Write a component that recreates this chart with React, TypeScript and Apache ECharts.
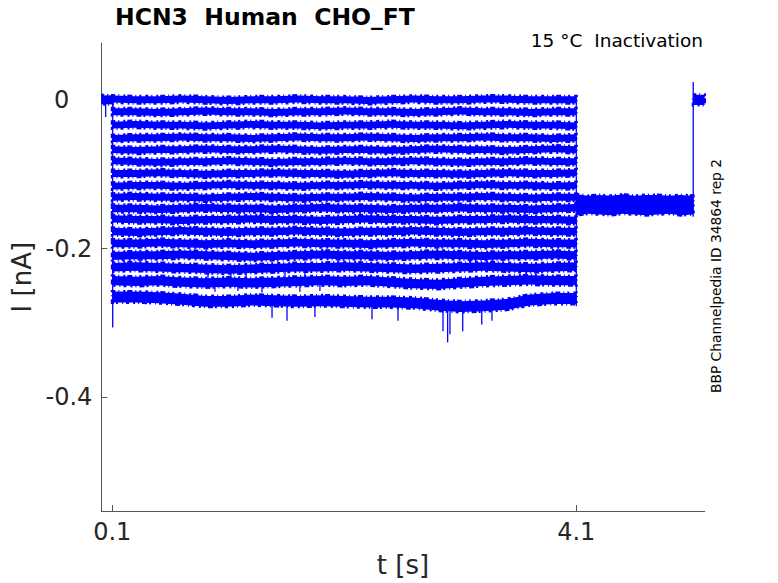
import React, { useEffect, useRef } from "react";
import * as echarts from "echarts";

// Axis extents
const T_MIN = 0.0052;
const T_MAX = 5.207;
const I_MIN = -0.5527;
const I_MAX = 0.076;

const X_TICKS = [0.1, 4.1];
const Y_TICKS = [-0.4, -0.2, 0];

// sample times during the test step (s)
const STEP_T = [0.1, 0.3, 0.5, 0.7, 0.9, 1.1, 1.3, 1.5, 1.7, 1.9, 2.1, 2.3, 2.5, 2.7, 2.9, 3.1, 3.3, 3.5, 3.7, 3.9, 4.1];

// mean current of each sweep during the step (pA)
const LEVELS_PA = [0, -16, -34, -51, -67, -83, -99, -115, -131, -146, -161, -177, -193, -209, -225, -243, -263];

// half-width of the noise band of each sweep (pA)
const NOISE_PA = [4.7, 4.6, 4.6, 4.6, 4.6, 4.6, 4.6, 4.6, 4.8, 5, 5, 5, 5.2, 5.4, 5.8, 6.3, 7.3];

// slow drift of each sweep around its mean, at STEP_T (pA)
const DRIFT_PA = [
  [1, 0, 0, 1, 0, -1, 0, 0, 1, 0, 0, -1, 0, 1, 0, 0, 1, 1, 0, 0, 0],
  [0, 0, -1, 0, 1, 0, 0, -1, 0, 0, 1, 0, 0, -1, 0, 1, 0, 0, -1, 0, 0],
  [0, 1, 0, 0, -1, 0, 1, 0, 0, -1, 0, 0, 1, 0, 0, -1, 0, 1, 0, 0, -1],
  [-1, 0, 0, 1, 0, 0, -1, 0, 1, 0, 0, 1, 0, -1, 0, 0, 1, 0, 0, -1, 0],
  [0, -1, 0, 0, 1, 0, 0, 1, 0, -1, 0, 0, -1, 0, 1, 0, 0, -1, 0, 1, 0],
  [1, 0, -1, 0, 0, 1, 0, -1, 0, 0, 1, 0, 0, 1, 0, -1, 0, 0, 1, 0, 0],
  [0, 0, 1, 0, -1, 0, 0, 1, 0, 0, -1, 0, 1, 0, 0, -1, 0, 1, 0, 0, 1],
  [-1, 0, 0, -1, 0, 1, 0, 0, -1, 0, 0, 1, 0, 0, -1, 0, 1, 0, 0, -1, 0],
  [0, 1, 0, 0, -1, 0, 1, 0, -1, 0, 0, 1, 0, -1, 0, 0, 1, 0, -1, 0, 0],
  [0, 0, -1, 0, 1, 0, 0, -1, 0, 1, 0, 0, -1, 0, 0, 1, 0, 0, -1, 0, 1],
  [1, 0, 0, -1, 0, 0, 1, 0, 0, -1, 0, 1, 0, 0, -1, 0, 0, 1, 0, 0, -1],
  [0, -1, 0, 1, 0, -1, 0, 0, 1, 0, -1, 0, 0, 1, 0, -1, 0, 0, 1, 0, 0],
  [0, 0, 1, 0, -1, 0, -1, 0, 1, 0, 0, -1, 0, 1, 0, 0, -1, 0, 1, 0, 0],
  [-1, 0, 0, 1, 0, -1, -2, -1, 0, 1, 0, 0, -1, 0, 1, 0, -1, 0, 0, 1, 0],
  [0, 1, 0, -1, -2, -3, -2, -1, 0, 0, 1, 0, -1, -2, -1, 0, 1, 0, -1, 0, 1],
  [0, -1, 0, -2, -3, -2, -3, -2, -1, 0, -1, 0, -2, -4, -5, -3, -1, 0, 1, 0, 0],
  [-2, -2, -3, -5, -8, -8, -6, -7, -8, -7, -8, -9, -9, -10, -13, -15, -14, -12, -6, -4, -4],
];

// holding level before the step (nA)
const PRE_T = [0.0052, 0.03, 0.06, 0.1];
const PRE_HI = [0.0066, 0.0058, 0.006, 0.0058];
const PRE_LO = [-0.0062, -0.006, -0.0058, -0.006];

// all sweeps overlapping after the step (nA)
const POST_T = [4.1, 4.2, 4.3, 4.4, 4.5, 4.6, 4.7, 4.8, 4.9, 5.0, 5.108];
const POST_HI = [-0.127, -0.129, -0.128, -0.129, -0.127, -0.129, -0.128, -0.128, -0.129, -0.128, -0.129];
const POST_LO = [-0.155, -0.153, -0.154, -0.155, -0.153, -0.154, -0.155, -0.154, -0.153, -0.155, -0.154];

// back at holding level (nA)
const TAIL_T = [5.108, 5.207];
const TAIL_HI = [0.007, 0.007];
const TAIL_LO = [-0.007, -0.007];

// vertical strokes and spikes: [t (s), top (nA), bottom (nA)]
const STROKES = [
  [0.043, 0.0, -0.023],
  [0.1035, 0.004, -0.306],
  [4.1, 0.004, -0.2775],
  [5.108, 0.024, -0.157],
  [1.477, -0.274, -0.293],
  [1.606, -0.275, -0.297],
  [1.847, -0.275, -0.292],
  [2.339, -0.277, -0.295],
  [2.563, -0.277, -0.297],
  [2.951, -0.281, -0.311],
  [2.991, -0.281, -0.326],
  [3.011, -0.281, -0.315],
  [3.121, -0.281, -0.311],
  [3.285, -0.279, -0.302],
  [3.373, -0.279, -0.297],
  [0.985, -0.248, -0.258],
  [1.183, -0.248, -0.257],
  [1.39, -0.249, -0.259],
  [1.717, -0.25, -0.258],
  [1.89, -0.249, -0.257],
  [0.925, -0.23, -0.239],
  [1.123, -0.231, -0.24],
  [1.253, -0.232, -0.24],
  [1.589, -0.231, -0.239],
  [1.761, -0.231, -0.24],
];

const TITLE = "HCN3  Human  CHO_FT";
const SUBTITLE = "15 °C  Inactivation";
const SIDE_NOTE = "BBP Channelpedia ID 34864 rep 2";

const FONT = "DejaVu Sans";
const BLUE = "#0000ff";

type Band = { t: number[]; hi: number[]; lo: number[] };

function buildBands(): Band[] {
  const bands: Band[] = [{ t: PRE_T, hi: PRE_HI, lo: PRE_LO }];
  LEVELS_PA.forEach((lvl, i) => {
    const c = STEP_T.map((_, k) => (lvl + DRIFT_PA[i][k]) / 1000);
    const n = NOISE_PA[i] / 1000;
    bands.push({ t: STEP_T, hi: c.map((v) => v + n), lo: c.map((v) => v - n) });
  });
  bands.push({ t: POST_T, hi: POST_HI, lo: POST_LO });
  bands.push({ t: TAIL_T, hi: TAIL_HI, lo: TAIL_LO });
  return bands;
}

export default function App() {
  const ref = useRef<HTMLDivElement>(null);
  useEffect(() => {
    if (!ref.current) return;
    const chart = echarts.init(ref.current, null, { renderer: "svg" });
    const bands = buildBands();
    const option: any = {
      animation: false,
      backgroundColor: "#ffffff",
      grid: { left: 101.3, top: 43.3, width: 603.4, height: 469, containLabel: false },
      xAxis: {
        type: "value",
        min: T_MIN,
        max: T_MAX,
        name: "t [s]",
        nameLocation: "middle",
        nameGap: 41,
        nameTextStyle: { fontFamily: FONT, fontSize: 26, color: "#262626" },
        axisLine: { show: true, onZero: false, lineStyle: { color: "#555555", width: 1 } },
        axisTick: { show: true, inside: true, length: 6, customValues: X_TICKS, lineStyle: { color: "#555555" } },
        axisLabel: {
          show: true,
          customValues: X_TICKS,
          margin: 9,
          fontFamily: FONT,
          fontSize: 24,
          color: "#262626",
          formatter: (v: number) => v.toFixed(1),
        },
        splitLine: { show: false },
      },
      yAxis: {
        type: "value",
        min: I_MIN,
        max: I_MAX,
        name: "I [nA]",
        nameLocation: "middle",
        nameGap: 61,
        nameTextStyle: { fontFamily: FONT, fontSize: 26, color: "#262626" },
        axisLine: { show: true, onZero: false, lineStyle: { color: "#555555", width: 1 } },
        axisTick: { show: true, inside: true, length: 6, customValues: Y_TICKS, lineStyle: { color: "#555555" } },
        axisLabel: {
          show: true,
          customValues: Y_TICKS,
          margin: 9,
          fontFamily: FONT,
          fontSize: 24,
          color: "#262626",
          formatter: (v: number) => (Math.abs(v) < 1e-9 ? "{z|0}" : v.toFixed(1)),
          rich: { z: { fontFamily: FONT, fontSize: 24, color: "#262626", padding: [0, 23, 0, 0] } },
        },
        splitLine: { show: false },
      },
      graphic: [
        {
          type: "text",
          left: 115,
          top: 5,
          style: { text: TITLE, fontFamily: FONT, fontWeight: "bold", fontSize: 23.5, fill: "#000000" },
        },
        {
          type: "text",
          right: 75,
          top: 31,
          style: { text: SUBTITLE, fontFamily: FONT, fontSize: 18.5, fill: "#000000" },
        },
        {
          type: "text",
          x: 716,
          y: 276,
          rotation: Math.PI / 2,
          style: {
            text: SIDE_NOTE,
            fontFamily: FONT,
            fontSize: 13.8,
            fill: "#000000",
            align: "center",
            verticalAlign: "middle",
          },
        },
      ],
      series: [
        {
          type: "custom",
          name: "sweeps",
          clip: true,
          data: bands.map((b, i) => [b.t[0], b.hi[0], i]),
          encode: { x: 0, y: 1 },
          renderItem: (params: any, api: any) => {
            const b = bands[api.value(2)];
            const up = b.t.map((t, k) => api.coord([t, b.hi[k]]));
            const dn = b.t.map((t, k) => api.coord([t, b.lo[k]])).reverse();
            return {
              type: "polygon",
              shape: { points: up.concat(dn) },
              style: {
                fill: BLUE,
                stroke: BLUE,
                lineWidth: 3,
                lineDash: [3, 3, 1, 4, 2, 2, 5, 3, 1, 3, 2, 4],
              },
            };
          },
        },
        {
          type: "custom",
          name: "strokes",
          clip: true,
          data: STROKES,
          encode: { x: 0, y: [1, 2] },
          renderItem: (params: any, api: any) => {
            const p1 = api.coord([api.value(0), api.value(1)]);
            const p2 = api.coord([api.value(0), api.value(2)]);
            return {
              type: "line",
              shape: { x1: p1[0], y1: p1[1], x2: p2[0], y2: p2[1] },
              style: { stroke: BLUE, lineWidth: 1.3 },
            };
          },
        },
      ],
    };
    chart.setOption(option);
    return () => chart.dispose();
  }, []);
  return (
    <div
      ref={ref}
      style={{ position: "fixed", left: 0, top: 0, width: 778, height: 583, background: "#fff" }}
    />
  );
}
